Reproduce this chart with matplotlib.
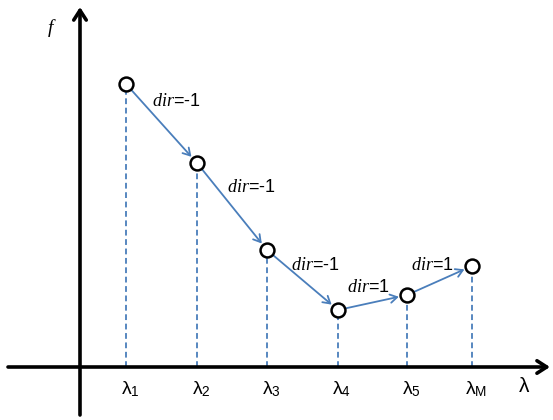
import numpy as np
import matplotlib
matplotlib.use('Agg')
import matplotlib.pyplot as plt

plt.rcParams['mathtext.fontset'] = 'custom'
plt.rcParams['mathtext.it'] = 'Liberation Serif:italic'
plt.rcParams['mathtext.rm'] = 'Liberation Sans'

# positions of the lambdas along the axis and the f values at each one
lam = [46, 117, 187, 258, 327, 392]
fval = [283, 204, 117, 57, 72, 101]
tick_labels = [r'λ$_{\mathrm{1}}$', r'λ$_{\mathrm{2}}$', r'λ$_{\mathrm{3}}$',
               r'λ$_{\mathrm{4}}$', r'λ$_{\mathrm{5}}$', r'λ$_{\mathrm{M}}$']
dirs = ['-1', '-1', '-1', '1', '1']

blue = '#4a7ebb'

fig = plt.figure(figsize=(5.53, 4.20), dpi=100)
fig.set_facecolor('white')
ax = fig.add_axes([0, 0, 1, 1])
ax.set_xlim(-80, 473)
ax.set_ylim(-53, 367)
ax.axis('off')

# axes with arrow heads
ax.annotate('', xy=(470, 0), xytext=(-72, 0),
            arrowprops=dict(arrowstyle='->,head_length=0.7,head_width=0.45',
                            lw=2.6, color='black', shrinkA=0, shrinkB=0))
ax.annotate('', xy=(0, 360), xytext=(0, -48),
            arrowprops=dict(arrowstyle='->,head_length=0.7,head_width=0.45',
                            lw=2.6, color='black', shrinkA=0, shrinkB=0))
ax.text(-30, 339, 'f', fontsize=14, family='Liberation Serif', style='italic',
        ha='center', va='center')
ax.text(444, -19, 'λ', fontsize=15, family='Liberation Sans',
        ha='center', va='center')

# dashed drop lines
for x, y in zip(lam, fval):
    ax.plot([x, x], [0, y], ls=(0, (3.2, 2)), color=blue, lw=1.3, zorder=1)

# tick labels
for x, t in zip(lam, tick_labels):
    ax.text(x + 4, -22, t, fontsize=14, family='Liberation Sans',
            ha='center', va='center')

# arrows between points
for i in range(len(lam) - 1):
    ax.annotate('', xy=(lam[i + 1], fval[i + 1]), xytext=(lam[i], fval[i]),
                arrowprops=dict(arrowstyle='->,head_length=0.5,head_width=0.3',
                                lw=1.3, color=blue, shrinkA=6, shrinkB=6),
                zorder=2)

ax.plot(lam, fval, 'o', ms=10, mfc='white', mec='black', mew=1.8,
        ls='none', zorder=3)

# dir labels
lab_x = [72, 147, 211, 267, 331]
lab_y = [266, 179, 102, 80, 102]
for x, y, d in zip(lab_x, lab_y, dirs):
    ax.text(x, y, r'$\mathit{dir}$=' + d, fontsize=13, family='Liberation Sans',
            ha='left', va='center')

plt.savefig('out.png', dpi=100, facecolor='white')
